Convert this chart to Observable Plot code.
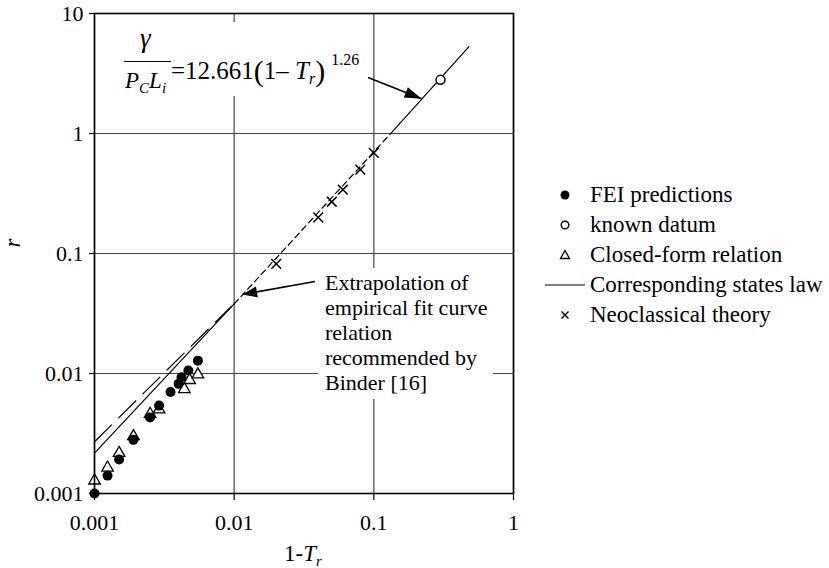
<!DOCTYPE html>
<html><head><meta charset="utf-8">
<script src="https://cdn.jsdelivr.net/npm/d3@7"></script>
<script src="https://cdn.jsdelivr.net/npm/@observablehq/plot@0.6"></script>
<style>
body{margin:0;background:#fff;}
#wrap{position:relative;width:829px;height:568px;font-family:"Liberation Serif","Times New Roman",Tinos,"DejaVu Serif",serif;color:#000;overflow:hidden;}
#wrap svg.plot{position:absolute;left:0;top:0;}
.abs{position:absolute;white-space:nowrap;line-height:1;}
.leg{position:absolute;left:545px;height:26px;display:flex;align-items:center;font-size:23px;white-space:nowrap;}
.leg svg{width:40px;height:26px;margin-right:5px;}
</style></head><body><div id="wrap"></div>
<script>
// ---------- data ----------
const xTicks = [0.001, 0.01, 0.1, 1];
const xTickLabels = ["0.001", "0.01", "0.1", "1"];
const yTicks = [0.001, 0.01, 0.1, 1, 10];
const yTickLabels = ["0.001", "0.01", "0.1", "1", "10"];

const feiX = [0.001, 0.00124, 0.0015, 0.0019, 0.0025, 0.0029, 0.0035, 0.0040, 0.0042, 0.0047, 0.0055];
const feiY = [0.001, 0.00141, 0.00192, 0.0028, 0.0043, 0.0054, 0.0070, 0.0082, 0.0093, 0.0106, 0.0128];

const cfX = [0.001, 0.00124, 0.0015, 0.0019, 0.0025, 0.0029, 0.0044, 0.0048, 0.0055];
const cfY = [0.00128, 0.00164, 0.00217, 0.0030, 0.0046, 0.0050, 0.0074, 0.0088, 0.0098];

const knownX = [0.3];
const knownY = [2.8];

const neoX = [0.02, 0.04, 0.05, 0.06, 0.08, 0.1];
const neoY = [0.082, 0.2, 0.27, 0.34, 0.5, 0.69];

// corresponding states law (straight in log-log): solid low part, dashed extrapolation, solid high part
const cslLowX = [0.001, 0.01], cslLowY = [0.00217, 0.038];
const extrapX = [0.01, 0.13], extrapY = [0.038, 0.98];
const cslHighX = [0.13, 0.48], cslHighY = [0.98, 5.3];
// Binder empirical fit (long dashes)
const binderX = [0.001, 0.0095], binderY = [0.0027, 0.036];

// annotation arrows (tail -> tip), data space
const eqArrowX = [0.060, 0.22], eqArrowY = [3.55, 1.95];
const exArrowX = [0.0379, 0.0114], exArrowY = [0.0584, 0.0455];

const legendLabels = ["FEI predictions", "known datum", "Closed-form relation", "Corresponding states law", "Neoclassical theory"];
const annotationLines = ["Extrapolation of", "empirical fit curve", "relation", "recommended by", "Binder [16]"];

// ---------- build tables ----------
const zip = (xs, ys) => xs.map((x, i) => ({x, y: ys[i]}));
const fei = zip(feiX, feiY), cf = zip(cfX, cfY), known = zip(knownX, knownY), neo = zip(neoX, neoY);
const seg = (xs, ys) => zip(xs, ys);
const arrowRow = (xs, ys) => [{x1: xs[0], y1: ys[0], x2: xs[1], y2: ys[1]}];

function filledHead(len, wid) {
  return (color) => {
    const m = d3.create("svg:marker")
      .attr("viewBox", `${-len} ${-wid / 2} ${len} ${wid}`)
      .attr("markerUnits", "userSpaceOnUse")
      .attr("markerWidth", len).attr("markerHeight", wid)
      .attr("refX", 0).attr("refY", 0)
      .attr("orient", "auto")
      .attr("overflow", "visible");
    m.append("path").attr("d", `M${-len},${-wid / 2}L0,0L${-len},${wid / 2}Z`).attr("fill", color).attr("stroke", "none");
    return m.node();
  };
}

function build(useCustom) {
  const head1 = useCustom ? filledHead(17, 11) : "arrow";
  const head2 = useCustom ? filledHead(15, 11) : "arrow";
  return Plot.plot({
    width: 829, height: 568,
    marginLeft: 94, marginRight: 316, marginTop: 13, marginBottom: 75,
    style: {fontFamily: "'Liberation Serif', 'Times New Roman', Tinos, serif", fontSize: "22px", color: "#000", background: "transparent", overflow: "visible"},
    x: {type: "log", domain: [0.001, 1]},
    y: {type: "log", domain: [0.001, 10]},
    marks: [
      Plot.gridX(xTicks, {stroke: "#444", strokeOpacity: 1, strokeWidth: 1.2}),
      Plot.gridY(yTicks, {stroke: "#444", strokeOpacity: 1, strokeWidth: 1.2}),
      Plot.axisX(xTicks, {tickFormat: d => xTickLabels[xTicks.indexOf(d)], tickSize: 7, tickPadding: 14, label: null, strokeWidth: 1.2}),
      Plot.axisY(yTicks, {tickFormat: d => yTickLabels[yTicks.indexOf(d)], tickSize: 5, tickPadding: 6, label: null, strokeWidth: 1.2}),
      Plot.line(seg(binderX, binderY), {x: "x", y: "y", stroke: "#000", strokeWidth: 1.2, strokeDasharray: "24,10"}),
      Plot.line(seg(cslLowX, cslLowY), {x: "x", y: "y", stroke: "#000", strokeWidth: 1.2}),
      Plot.line(seg(extrapX, extrapY), {x: "x", y: "y", stroke: "#000", strokeWidth: 1.2, strokeDasharray: "6,4"}),
      Plot.line(seg(cslHighX, cslHighY), {x: "x", y: "y", stroke: "#000", strokeWidth: 1.2}),
      Plot.dot(cf, {x: "x", y: "y", symbol: "triangle", r: 4.3, fill: "#fff", stroke: "#000", strokeWidth: 1.3}),
      Plot.dot(fei, {x: "x", y: "y", r: 5, fill: "#000", stroke: "none"}),
      Plot.dot(known, {x: "x", y: "y", r: 4.5, fill: "#fff", stroke: "#000", strokeWidth: 1.5}),
      Plot.dot(neo, {x: "x", y: "y", symbol: "times", r: 4.5, stroke: "#000", strokeWidth: 1.5}),
      Plot.frame({stroke: "#000", strokeWidth: 1.6}),
      Plot.link(arrowRow(eqArrowX, eqArrowY), {x1: "x1", y1: "y1", x2: "x2", y2: "y2", stroke: "#000", strokeWidth: 1.6, markerEnd: head1}),
      Plot.link(arrowRow(exArrowX, exArrowY), {x1: "x1", y1: "y1", x2: "x2", y2: "y2", stroke: "#000", strokeWidth: 1.6, markerEnd: head2})
    ]
  });
}

let chart;
try { chart = build(true); } catch (e) { chart = build(false); }
chart.classList.add("plot");
const wrap = document.getElementById("wrap");
wrap.appendChild(chart);

// ---------- text overlays ----------
function add(html, css) {
  const d = document.createElement("div");
  d.className = "abs";
  d.innerHTML = html;
  Object.assign(d.style, css);
  wrap.appendChild(d);
  return d;
}
// equation with white background (hides gridline behind it)
add("", {left: "116px", top: "22px", width: "252px", height: "74px", background: "#fff"});
add("<i>γ</i>", {left: "140px", top: "25px", fontSize: "27px"});
add("", {left: "124px", top: "61px", width: "47px", height: "1.4px", background: "#000"});
add("<i>P</i><sub style='font-size:15px;vertical-align:-5px'><i>C</i></sub><i>L</i><sub style='font-size:15px;vertical-align:-5px'><i>i</i></sub>", {left: "125px", top: "69px", fontSize: "23px"});
add("=12.661<span style='font-size:30px;vertical-align:-2px'>(</span>1– <i>T</i><sub style='font-size:16px;vertical-align:-5px'><i>r</i></sub><span style='font-size:30px;vertical-align:-2px'>)</span><span style='font-size:16px;vertical-align:14px;margin-left:6px'>1.26</span>", {left: "171px", top: "52px", fontSize: "25px"});

// annotation block
add(annotationLines.join("<br>"), {left: "318px", top: "268px", padding: "2px 6px 4px 7px", background: "#fff", fontSize: "22px", lineHeight: "25px"});

// axis titles
add("1-<i>T</i><sub style='font-size:15px;vertical-align:-5px'><i>r</i></sub>", {left: "284px", top: "542px", fontSize: "23px"});
add("<i>r</i>", {left: "2px", top: "231px", width: "22px", height: "24px", textAlign: "center", fontSize: "23px", transform: "rotate(-90deg)", transformOrigin: "center"});

// legend
const legIcons = [
  "<circle cx='20' cy='13' r='4.5' fill='#000'/>",
  "<circle cx='20' cy='13' r='3.8' fill='#fff' stroke='#000' stroke-width='1.4'/>",
  "<path d='M20,8.5 L24.5,16.5 L15.5,16.5 Z' fill='#fff' stroke='#000' stroke-width='1.3'/>",
  "<line x1='0' x2='40' y1='13' y2='13' stroke='#000' stroke-width='1.2'/>",
  "<path d='M16.5,9.5 L23.5,16.5 M23.5,9.5 L16.5,16.5' stroke='#000' stroke-width='1.4'/>"
];
legendLabels.forEach((lab, i) => {
  const d = document.createElement("div");
  d.className = "leg";
  d.style.top = (195 + 30 * i - 13) + "px";
  d.innerHTML = `<svg viewBox="0 0 40 26">${legIcons[i]}</svg><span>${lab}</span>`;
  wrap.appendChild(d);
});
</script></body></html>
